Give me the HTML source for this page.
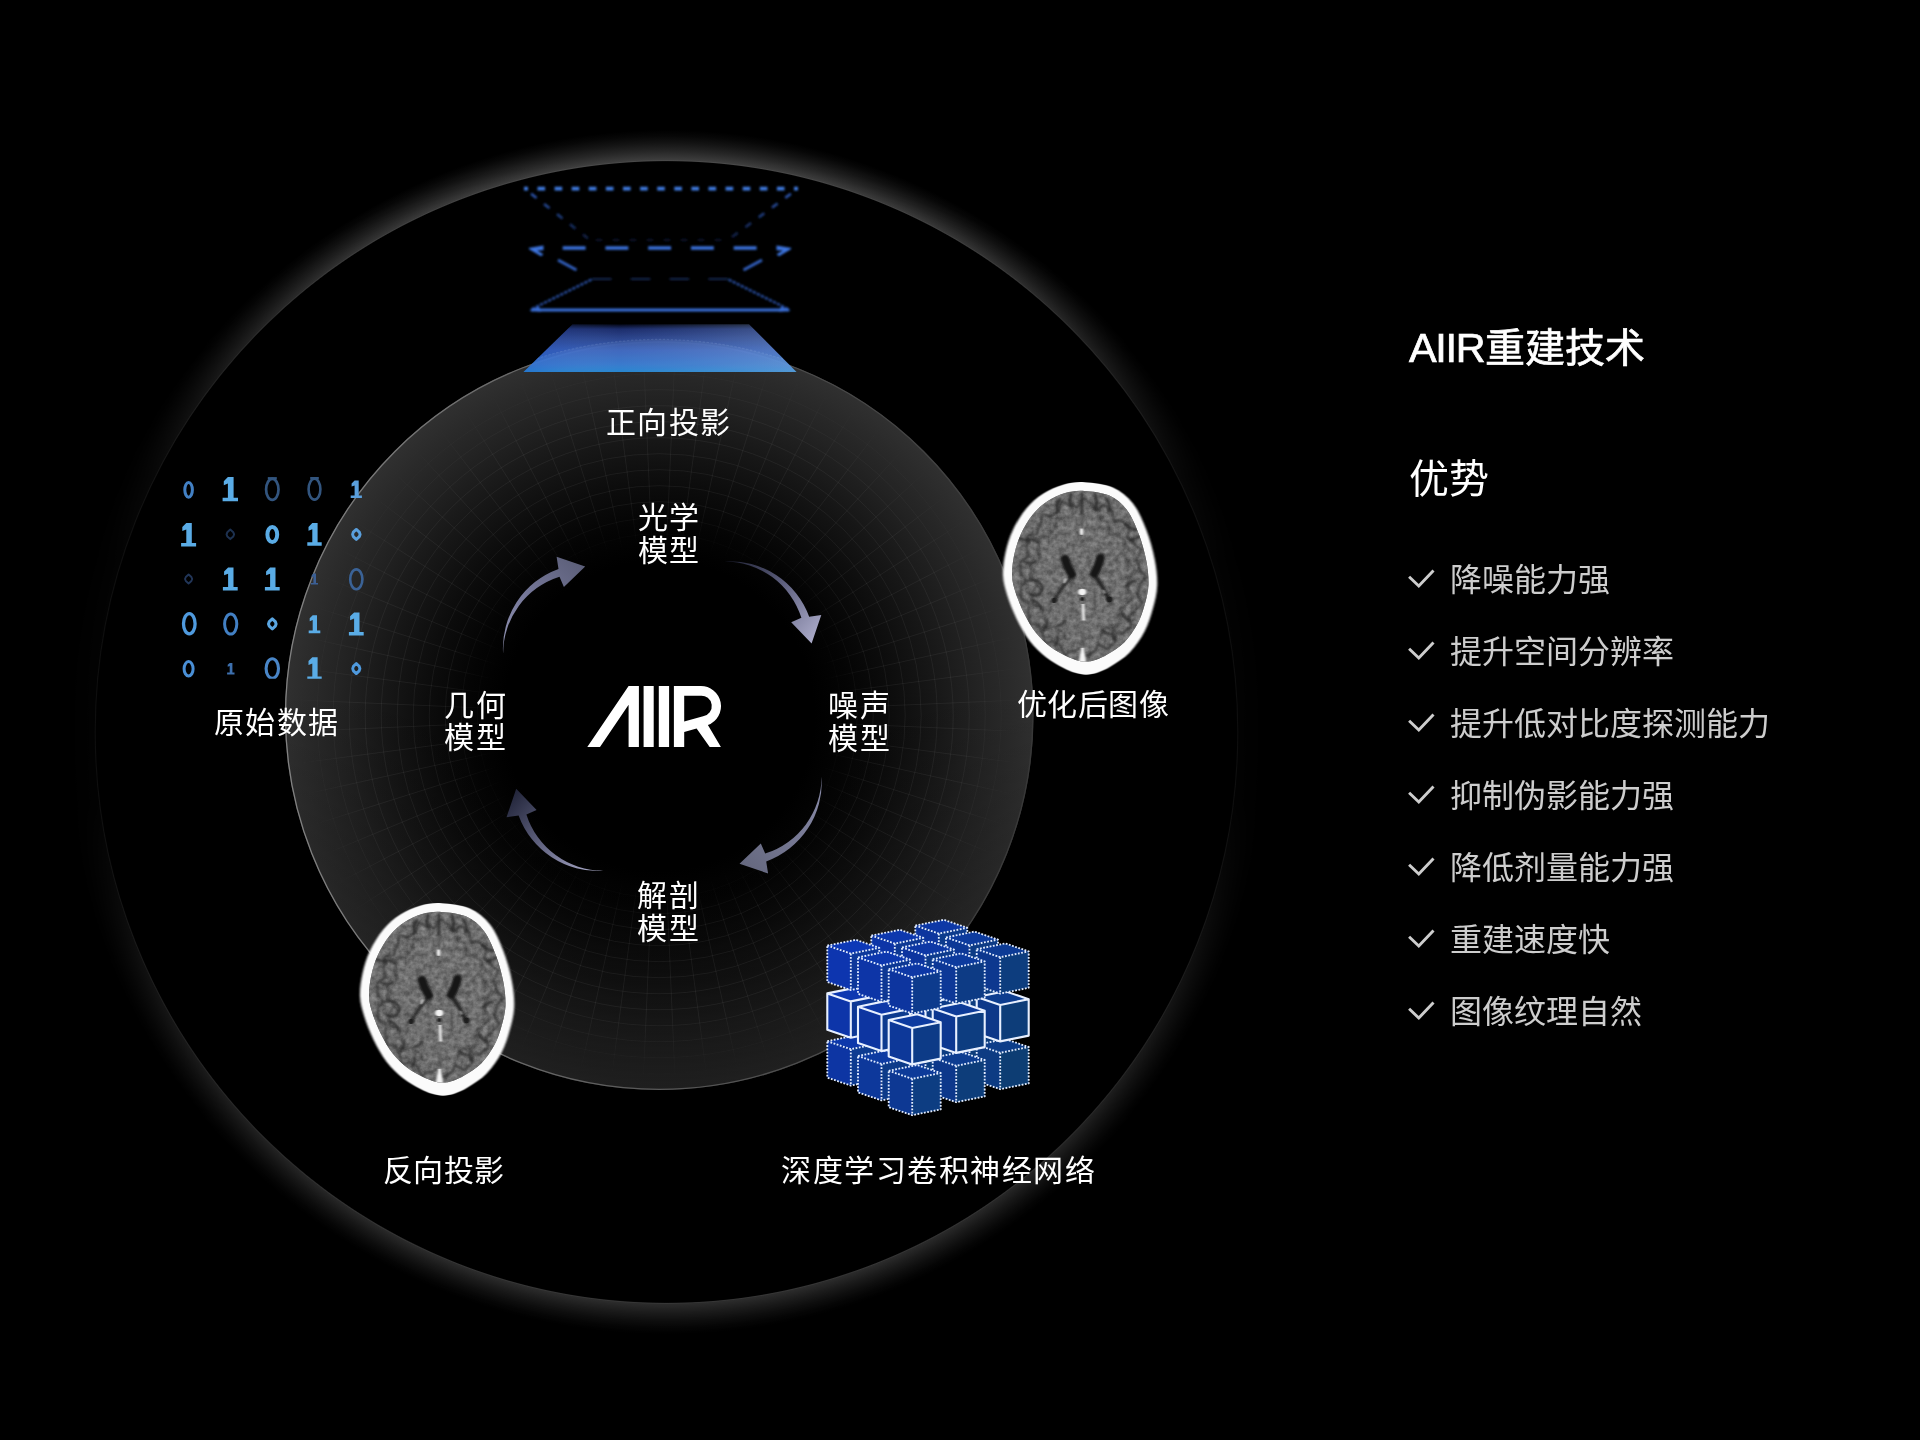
<!DOCTYPE html>
<html lang="zh-CN">
<head>
<meta charset="utf-8">
<title>AIIR重建技术</title>
<style>
html,body{margin:0;padding:0;background:#000;}
body{width:1920px;height:1440px;position:relative;overflow:hidden;color:#fff;font-family:"Liberation Sans",sans-serif;}
svg.dg{position:absolute;left:0;top:0;display:block;}
#txt{position:absolute;left:0;top:0;width:1920px;height:1440px;will-change:transform;}
.lb{position:absolute;white-space:nowrap;font-size:30px;line-height:32px;color:#fff;}
.ttl{position:absolute;left:1409px;white-space:nowrap;color:#fff;}
.li{position:absolute;left:1449.8px;font-size:32px;line-height:40px;color:#cdcdcd;white-space:nowrap;}
.ck{position:absolute;left:1407px;width:30px;height:24px;}

</style>
</head>
<body>
<svg class="dg" width="1400" height="1440" viewBox="0 0 1400 1440"><defs><radialGradient id="glow" gradientUnits="userSpaceOnUse" cx="666.5" cy="732" r="607"><stop offset="0.9397" stop-color="#000"/><stop offset="0.9414" stop-color="#404040"/><stop offset="0.9473" stop-color="#363636"/><stop offset="0.9572" stop-color="#262626"/><stop offset="0.9703" stop-color="#141414"/><stop offset="0.9819" stop-color="#070707"/><stop offset="0.9918" stop-color="#000"/></radialGradient><linearGradient id="gmg" gradientUnits="userSpaceOnUse" x1="0" y1="121" x2="0" y2="1343"><stop offset="0" stop-color="rgb(255,255,255)"/><stop offset="0.033" stop-color="rgb(255,255,255)"/><stop offset="0.079" stop-color="rgb(230,230,230)"/><stop offset="0.126" stop-color="rgb(189,189,189)"/><stop offset="0.17" stop-color="rgb(143,143,143)"/><stop offset="0.229" stop-color="rgb(76,76,76)"/><stop offset="0.29" stop-color="rgb(31,31,31)"/><stop offset="0.36" stop-color="rgb(13,13,13)"/><stop offset="0.5" stop-color="rgb(8,8,8)"/><stop offset="0.56" stop-color="rgb(10,10,10)"/><stop offset="0.626" stop-color="rgb(33,33,33)"/><stop offset="0.71" stop-color="rgb(76,76,76)"/><stop offset="0.771" stop-color="rgb(107,107,107)"/><stop offset="0.83" stop-color="rgb(135,135,135)"/><stop offset="0.874" stop-color="rgb(156,156,156)"/><stop offset="0.92" stop-color="rgb(171,171,171)"/><stop offset="0.967" stop-color="rgb(181,181,181)"/><stop offset="1" stop-color="rgb(181,181,181)"/></linearGradient><mask id="gm" maskUnits="userSpaceOnUse" x="0" y="0" width="1400" height="1440"><rect x="0" y="0" width="1400" height="1440" fill="url(#gmg)"/></mask><radialGradient id="ring" gradientUnits="userSpaceOnUse" cx="659.2" cy="715.7" r="374.3"><stop offset="0.0000" stop-color="rgb(0,0,0)"/><stop offset="0.4141" stop-color="rgb(0,0,0)"/><stop offset="0.5076" stop-color="rgb(4,4,4)"/><stop offset="0.6145" stop-color="rgb(12,12,12)"/><stop offset="0.7347" stop-color="rgb(23,23,23)"/><stop offset="0.8549" stop-color="rgb(35,35,35)"/><stop offset="0.9351" stop-color="rgb(42,42,42)"/><stop offset="0.9992" stop-color="rgb(48,48,48)"/></radialGradient><radialGradient id="gridfade" gradientUnits="userSpaceOnUse" cx="659.2" cy="715.7" r="374.3"><stop offset="0.0000" stop-color="rgb(0,0,0)"/><stop offset="0.4408" stop-color="rgb(0,0,0)"/><stop offset="0.5744" stop-color="rgb(255,255,255)"/><stop offset="0.8015" stop-color="rgb(255,255,255)"/><stop offset="0.8950" stop-color="rgb(114,114,114)"/><stop offset="0.9565" stop-color="rgb(30,30,30)"/><stop offset="0.9992" stop-color="rgb(0,0,0)"/></radialGradient><mask id="gridm" maskUnits="userSpaceOnUse" x="280" y="340" width="760" height="760"><circle cx="659.2" cy="715.7" r="374.3" fill="url(#gridfade)"/></mask><linearGradient id="rimg" gradientUnits="userSpaceOnUse" x1="285" y1="0" x2="1034" y2="0"><stop offset="0" stop-color="#828282"/><stop offset="0.45" stop-color="#5c5c5c"/><stop offset="1" stop-color="#383838"/></linearGradient><linearGradient id="ringshade" gradientUnits="userSpaceOnUse" x1="0" y1="690" x2="0" y2="1090"><stop offset="0" stop-color="#000" stop-opacity="0"/><stop offset="0.5" stop-color="#000" stop-opacity="0.2"/><stop offset="1" stop-color="#000" stop-opacity="0.36"/></linearGradient><linearGradient id="pfill" x1="0" y1="0" x2="0" y2="1"><stop offset="0" stop-color="#050818"/><stop offset="0.1" stop-color="#1f3174"/><stop offset="0.3" stop-color="#304b98"/><stop offset="0.55" stop-color="#3864c4"/><stop offset="0.85" stop-color="#2f79d6"/><stop offset="0.95" stop-color="#2283da"/><stop offset="1" stop-color="#1a86d6"/></linearGradient><linearGradient id="pfillh" x1="0" y1="0" x2="1" y2="0"><stop offset="0" stop-color="#0a3fd0" stop-opacity="0.25"/><stop offset="0.35" stop-color="#7aa0e0" stop-opacity="0"/><stop offset="1" stop-color="#a8c6ee" stop-opacity="0.34"/></linearGradient><linearGradient id="pside1" gradientUnits="userSpaceOnUse" x1="0" y1="190" x2="0" y2="240"><stop offset="0" stop-color="#2f5ab8"/><stop offset="1" stop-color="#111d40"/></linearGradient><filter id="b06" x="-5%" y="-50%" width="110%" height="200%"><feGaussianBlur stdDeviation="0.6"/></filter><filter id="b05" filterUnits="userSpaceOnUse" x="500" y="170" width="320" height="160"><feGaussianBlur stdDeviation="1.05"/></filter><clipPath id="pclip"><path d="M572.5 324.3H749L796.5 372H523.5Z"/></clipPath><linearGradient id="ag0" gradientUnits="userSpaceOnUse" x1="724" y1="561" x2="814" y2="640"><stop offset="0" stop-color="#1c1e30"/><stop offset="0.5" stop-color="#5f6180"/><stop offset="1" stop-color="#aaaac8"/></linearGradient><linearGradient id="ag1" gradientUnits="userSpaceOnUse" x1="724" y1="561" x2="814" y2="640"><stop offset="0" stop-color="#8c8eac"/><stop offset="0.5" stop-color="#787a95"/><stop offset="1" stop-color="#65687f"/></linearGradient><linearGradient id="ag2" gradientUnits="userSpaceOnUse" x1="724" y1="561" x2="814" y2="640"><stop offset="0" stop-color="#b0b0ce"/><stop offset="0.5" stop-color="#686a88"/><stop offset="1" stop-color="#22253a"/></linearGradient><linearGradient id="ag3" gradientUnits="userSpaceOnUse" x1="724" y1="561" x2="814" y2="640"><stop offset="0" stop-color="#9294b2"/><stop offset="0.5" stop-color="#76789a"/><stop offset="1" stop-color="#5c5f79"/></linearGradient><filter id="bitb" x="-2%" y="-2%" width="104%" height="104%"><feGaussianBlur stdDeviation="0.75"/></filter><clipPath id="bitclip"><rect x="170" y="476.9" width="210" height="201.8"/></clipPath><filter id="b04" x="-5%" y="-5%" width="110%" height="110%"><feGaussianBlur stdDeviation="0.45"/></filter><filter id="bnoise" x="0" y="0" width="100%" height="100%" color-interpolation-filters="sRGB"><feTurbulence type="fractalNoise" baseFrequency="0.18" numOctaves="3" seed="11" result="n"/><feColorMatrix in="n" type="matrix" values="0.32 0 0 0 0.275  0.32 0 0 0 0.275  0.32 0 0 0 0.275  0 0 0 0 1" result="g"/><feGaussianBlur in="g" stdDeviation="0.7" result="gb"/><feComposite in="gb" in2="SourceGraphic" operator="in"/></filter><filter id="bb1" filterUnits="userSpaceOnUse" x="-10" y="-10" width="180" height="220"><feGaussianBlur stdDeviation="1.1"/></filter><filter id="bb2" filterUnits="userSpaceOnUse" x="-10" y="-10" width="180" height="220"><feGaussianBlur stdDeviation="0.8"/></filter><clipPath id="bclip"><path d="M81.3 8.5C88.7 8.9 99.3 10 106.4 13.3C113.5 16.6 119.2 21.6 124.1 28.1C129 34.6 132.6 43.8 135.8 52.4C139 61 141.7 71.2 143.3 79.7C144.9 88.3 145.7 96.3 145.5 103.7C145.2 111 143.6 117.1 141.8 123.8C139.9 130.5 137.9 137.5 134.4 144C131 150.5 126.1 157.6 121.2 162.7C116.2 167.9 109.3 171.9 104.6 174.8C99.9 177.8 96.7 179.1 93.1 180.3C89.5 181.5 86.1 182.2 82.7 182.2C79.4 182.2 76.2 181.6 72.7 180.6C69.3 179.5 66.4 178.3 62.1 176.1C57.9 173.8 52.3 171 47.3 167.1C42.4 163.2 37.1 158.4 32.7 152.6C28.2 146.9 24.1 139.2 20.8 132.5C17.5 125.7 14.7 118.6 12.7 112.3C10.8 106.1 9.3 101.4 9 94.9C8.8 88.5 9.8 80.7 11.2 73.6C12.7 66.5 14.8 59.2 17.9 52.4C20.9 45.6 25.2 38.2 29.6 32.7C34.1 27.1 39 22.7 44.4 19C49.8 15.4 56 12.5 62.1 10.7C68.3 9 74 8 81.3 8.5Z"/></clipPath><symbol id="brain" viewBox="-4 -4 162 204" preserveAspectRatio="none" overflow="visible"><path d="M81.7 -0.3C90 0.2 102 1.4 110 5C118 8.6 124.5 14.1 130 21.3C135.6 28.5 139.7 38.5 143.3 48C146.9 57.5 149.9 68.5 151.7 78C153.5 87.5 154.5 96.4 154.2 104.7C153.9 113 152.1 120.2 150 128C147.9 135.8 145.6 143.8 141.7 151.3C137.8 158.8 132.3 167.1 126.7 173C121.1 178.9 113.3 183.6 108 187C102.7 190.4 99.1 191.9 95 193.3C90.9 194.7 87.1 195.4 83.3 195.5C79.5 195.6 75.9 194.8 72 193.6C68.1 192.4 64.8 191 60 188.4C55.2 185.8 48.8 182.5 43.3 178C37.8 173.5 31.7 168 26.7 161.3C21.7 154.6 17.1 145.8 13.3 138C9.6 130.2 6.4 121.9 4.2 114.7C2 107.5 0.3 101.9 0 94.7C-0.3 87.5 0.8 79.1 2.5 71.3C4.2 63.5 6.5 55.5 10 48C13.5 40.5 18.3 32.4 23.3 26.3C28.3 20.2 33.9 15.3 40 11.3C46.1 7.3 53 4.1 60 2.2C67 0.3 73.4 -0.8 81.7 -0.3Z" fill="#fbfbfb" filter="url(#bb2)"/><path d="M81.3 8.5C88.7 8.9 99.3 10 106.4 13.3C113.5 16.6 119.2 21.6 124.1 28.1C129 34.6 132.6 43.8 135.8 52.4C139 61 141.7 71.2 143.3 79.7C144.9 88.3 145.7 96.3 145.5 103.7C145.2 111 143.6 117.1 141.8 123.8C139.9 130.5 137.9 137.5 134.4 144C131 150.5 126.1 157.6 121.2 162.7C116.2 167.9 109.3 171.9 104.6 174.8C99.9 177.8 96.7 179.1 93.1 180.3C89.5 181.5 86.1 182.2 82.7 182.2C79.4 182.2 76.2 181.6 72.7 180.6C69.3 179.5 66.4 178.3 62.1 176.1C57.9 173.8 52.3 171 47.3 167.1C42.4 163.2 37.1 158.4 32.7 152.6C28.2 146.9 24.1 139.2 20.8 132.5C17.5 125.7 14.7 118.6 12.7 112.3C10.8 106.1 9.3 101.4 9 94.9C8.8 88.5 9.8 80.7 11.2 73.6C12.7 66.5 14.8 59.2 17.9 52.4C20.9 45.6 25.2 38.2 29.6 32.7C34.1 27.1 39 22.7 44.4 19C49.8 15.4 56 12.5 62.1 10.7C68.3 9 74 8 81.3 8.5Z" fill="#6d6d6d"/><path d="M81.3 8.5C88.7 8.9 99.3 10 106.4 13.3C113.5 16.6 119.2 21.6 124.1 28.1C129 34.6 132.6 43.8 135.8 52.4C139 61 141.7 71.2 143.3 79.7C144.9 88.3 145.7 96.3 145.5 103.7C145.2 111 143.6 117.1 141.8 123.8C139.9 130.5 137.9 137.5 134.4 144C131 150.5 126.1 157.6 121.2 162.7C116.2 167.9 109.3 171.9 104.6 174.8C99.9 177.8 96.7 179.1 93.1 180.3C89.5 181.5 86.1 182.2 82.7 182.2C79.4 182.2 76.2 181.6 72.7 180.6C69.3 179.5 66.4 178.3 62.1 176.1C57.9 173.8 52.3 171 47.3 167.1C42.4 163.2 37.1 158.4 32.7 152.6C28.2 146.9 24.1 139.2 20.8 132.5C17.5 125.7 14.7 118.6 12.7 112.3C10.8 106.1 9.3 101.4 9 94.9C8.8 88.5 9.8 80.7 11.2 73.6C12.7 66.5 14.8 59.2 17.9 52.4C20.9 45.6 25.2 38.2 29.6 32.7C34.1 27.1 39 22.7 44.4 19C49.8 15.4 56 12.5 62.1 10.7C68.3 9 74 8 81.3 8.5Z" fill="#fff" filter="url(#bnoise)" opacity="0.95"/><g clip-path="url(#bclip)"><g fill="none" stroke="#2a2a2a" stroke-linecap="round" stroke-linejoin="round" filter="url(#bb1)"><path d="M78.5 17.7L81.8 16.2L84.9 19.8L88 20.7L90.7 23.6L92.9 28.6L96.5 26.5L100.8 22.7L103.7 24.9L106.4 27.1L109.3 28.9L109.9 35.5L111.1 39.9L115.8 38.4L119.5 39.1L121.7 42.1L125.3 43.5L126.3 48L124.2 55L126.1 58L130 59.5L131.7 63L134.9 65.5L138.3 68.3L135.8 73.9L133.3 79L135.3 82.4L136.1 86.2L137.1 90L141.5 93.7L142.1 98L137.7 101.9L136.3 105.6L136.1 109.4L134.1 112.8L136 117.3L139.3 122.8L136.7 126L132.9 128.4L131.5 131.9L128.1 133.9L125.6 136.4L127.7 142.8L127.7 148L124.1 149.5L121.6 152.1L118.5 153.7L113.7 152.5L112 155.8L112 162.6L109.4 165.2L106.4 166.8L103.9 169.5L99.6 166.9L95.6 164.2L93.6 168.6L91.1 172.5L88 173.2L85.1 176.5L81.8 176.4L78.5 170.3L75.5 168.6L72.3 171.5L69.2 171.3L65.8 172.7L61.9 175.7L59.5 171.5L57.9 165.2L55 164.3L52.1 163L49.5 161L44.7 163.3L40.8 163.1L40.5 156.9L39.4 152.5L37.1 150L36.4 145.6L33.2 144L27.4 144.6L25.7 141L26.4 135.8L25 132.2L25.6 127.6L26.5 123L22 121L17.7 118.4L18.2 114.1L17.9 110L18.1 106L22 101.7L22.4 98L18.2 93.9L17.2 89.7L17.8 85.6L17 81.1L20.4 77.9L25.4 75.7L24.9 71.4L23.6 66.4L24.9 62.7L24.4 57.6L25.3 53.3L30.9 53.2L34.7 52.1L35.1 47.5L37 44.3L38.4 40.4L38.3 33.9L41.6 32.3L46.8 34.8L49.6 33.2L52.1 31L55.2 30.3L56.7 24.5L58.6 19L62.6 21.2L66.2 23.4L69.3 22.7L72.6 24.9L75.5 24.3L78.5 17.7" stroke-width="2" opacity="0.8"/><path d="M61.3 157.4L60.2 152L58 150.6L55.4 150.2L53.7 147.8L51.6 146.2L47.4 148L43.1 149L41.8 145.7L42.3 140.4L41.5 137L39.8 134.6L39.8 130.7L40 127L36.8 125.8L31.7 125.4L29.3 122.9L30 118.9L30.1 115.4L29.2 112.3L30.6 108.6L33.8 104.9L33.9 101.9L30.1 99.1L27.2 95.7L27.6 92.2L28 88.8L27.1 85.1L28.4 81.9L33.1 80.1L36.6 78.3L36 74.7L34.6 70.3L35.4 67.1L36.3 63.9L35.7 59.2L36.1 55.2L40.1 54.9L44.9 56.1L47.2 54.5L48 51L49.9 49L52.1 47.3L52.7 42.4L53.3 36.6L56 35.5L59.9 38.5" stroke-width="1.8" opacity="0.6"/><path d="M96.3 34.8L98.8 36.3L100.8 38.9L103.5 39.7L105.6 42L105.7 47.8L105.8 52.8L108.6 53.2L112.7 52.2L115.3 53.6L117 56.3L120 57.6L122.7 59.4L122 64.2L119.4 69.9L119.5 73.3L122.4 75.1L124.2 77.7L124.8 80.8L127.4 83.4L131.3 86L131.5 89.6L127.9 93.5L125.3 96.9L125.7 100.1L125.7 103.2L124.2 106.1L124.9 109.3L128.4 113.6L130.1 117.8L127.4 120.3L123.8 122.1L122.4 124.9L120.9 127.5L117.5 128.5L115.2 130.3L116.4 135.1L117.9 140.9L116.3 143.8L113.2 144.7L111.1 146.8L109.1 148.9L105.3 147.8L101.4 145.9L99.8 148.2L99.3 153.9L97.6 157.4" stroke-width="1.8" opacity="0.55"/></g><g fill="none" stroke="#2c2c2c" stroke-linecap="round" filter="url(#bb1)" opacity="0.85"><path d="M17 57l9 3M136.5 55l-9 4M54 19v9M94 19v9M57 17q-4 6-2 12M68 12q-3 8 1 14M92 12q3 8-1 15M103 16q5 6 3 13M22 58q8 -2 13 3M20 80q7 3 12 1M122 42q4 5 11 6M40 150q5 -4 4 -10M52 166q4 -5 2 -10M112 160q-4 -5 -1 -10M126 140q-5 -2 -7 -7M30 120q6 2 8 8M132 100q-6 1 -9 6M24 100q7 -3 13 2q5 5 0 11q-6 4 -11 0M100 150q3 4 8 4M62 140q-2 5 -7 6" stroke-width="2.6"/></g><path d="M79 11L78.8 33" stroke="#2c2c2c" stroke-width="2.6" fill="none" filter="url(#bb1)" opacity="0.85"/><path d="M78.8 33L78.6 64" stroke="#3a3a3a" stroke-width="1.8" fill="none" filter="url(#bb1)" opacity="0.4"/><path d="M79.5 142L80.5 170" stroke="#484848" stroke-width="1.6" fill="none" filter="url(#bb1)" opacity="0.6"/><g fill="none" stroke="#181818" stroke-linecap="round" stroke-linejoin="round" filter="url(#bb1)"><path d="M62 77.5Q64 86 69 93.5" stroke-width="8.6"/><path d="M97.5 76.5Q95.5 86 91 93" stroke-width="8.6"/><path d="M68 96Q60 105 51.5 119" stroke-width="3.4" opacity="0.8"/><path d="M92 95Q100 106 106 119" stroke-width="4.2" opacity="0.85"/></g><g fill="#1a1a1a" filter="url(#bb2)"><circle cx="51" cy="120" r="2.6"/><circle cx="106.5" cy="119" r="3"/><circle cx="79.3" cy="118.5" r="2"/></g><g fill="#f4f4f4" filter="url(#bb2)"><ellipse cx="78.6" cy="50" rx="1.8" ry="3.4"/><ellipse cx="79.2" cy="111.3" rx="4" ry="3.2"/><path d="M78.6 123.5h2.6l0.8 17h-2.6z"/><path d="M78 168l3 0l2.6 18h-8z"/><ellipse cx="62" cy="100" rx="1.3" ry="3" transform="rotate(28 62 100)" opacity="0.7"/><ellipse cx="101" cy="111" rx="1.1" ry="2.4" transform="rotate(-28 101 111)" opacity="0.55"/></g></g></symbol></defs>
<g mask="url(#gm)"><circle cx="666.5" cy="732" r="607" fill="url(#glow)"/></g>
<circle cx="666.5" cy="732" r="571.3" fill="none" stroke="#fff" stroke-opacity="0.05" stroke-width="1.2"/>
<circle cx="659.2" cy="715.7" r="374.3" fill="url(#ring)"/>
<circle cx="659.2" cy="715.7" r="374.3" fill="url(#ringshade)"/>
<g mask="url(#gridm)" fill="none" stroke="#fff" stroke-opacity="0.055" stroke-width="1"><circle cx="659.2" cy="715.7" r="150"/><circle cx="659.2" cy="715.7" r="166"/><circle cx="659.2" cy="715.7" r="182"/><circle cx="659.2" cy="715.7" r="198"/><circle cx="659.2" cy="715.7" r="214"/><circle cx="659.2" cy="715.7" r="230"/><circle cx="659.2" cy="715.7" r="246"/><circle cx="659.2" cy="715.7" r="262"/><circle cx="659.2" cy="715.7" r="278"/><circle cx="659.2" cy="715.7" r="294"/><circle cx="659.2" cy="715.7" r="310"/><circle cx="659.2" cy="715.7" r="326"/><circle cx="659.2" cy="715.7" r="342"/><circle cx="659.2" cy="715.7" r="358"/><path d="M809.1 722.2L1030.8 731.9M807.9 735.3L1028 764.3M805.6 748.2L1022.4 796.2M802.3 760.8L1014 827.6M797.8 773.1L1002.9 858.1M792.3 785L989.2 887.5M785.7 796.3L972.9 915.6M778.2 807L954.3 942.2M769.8 817L933.5 967M760.5 826.3L910.5 990M750.5 834.7L885.7 1010.8M739.8 842.2L859.1 1029.4M728.5 848.8L831 1045.7M716.6 854.3L801.6 1059.4M704.3 858.8L771.1 1070.5M691.7 862.1L739.7 1078.9M678.8 864.4L707.8 1084.5M665.7 865.6L675.4 1087.3M652.7 865.6L643 1087.3M639.6 864.4L610.6 1084.5M626.7 862.1L578.7 1078.9M614.1 858.8L547.3 1070.5M601.8 854.3L516.8 1059.4M589.9 848.8L487.4 1045.7M578.6 842.2L459.3 1029.4M567.9 834.7L432.7 1010.8M557.9 826.3L407.9 990M548.6 817L384.9 967M540.2 807L364.1 942.2M532.7 796.3L345.5 915.6M526.1 785L329.2 887.5M520.6 773.1L315.5 858.1M516.1 760.8L304.4 827.6M512.8 748.2L296 796.2M510.5 735.3L290.4 764.3M509.3 722.2L287.6 731.9M509.3 709.2L287.6 699.5M510.5 696.1L290.4 667.1M512.8 683.2L296 635.2M516.1 670.6L304.4 603.8M520.6 658.3L315.5 573.3M526.1 646.4L329.2 543.9M532.7 635.1L345.5 515.8M540.2 624.4L364.1 489.2M548.6 614.4L384.9 464.4M557.9 605.1L407.9 441.4M567.9 596.7L432.7 420.6M578.6 589.2L459.3 402M589.9 582.6L487.4 385.7M601.8 577.1L516.8 372M614.1 572.6L547.3 360.9M626.7 569.3L578.7 352.5M639.6 567L610.6 346.9M652.7 565.8L643 344.1M665.7 565.8L675.4 344.1M678.8 567L707.8 346.9M691.7 569.3L739.7 352.5M704.3 572.6L771.1 360.9M716.6 577.1L801.6 372M728.5 582.6L831 385.7M739.8 589.2L859.1 402M750.5 596.7L885.7 420.6M760.5 605.1L910.5 441.4M769.8 614.4L933.5 464.4M778.2 624.4L954.3 489.2M785.7 635.1L972.9 515.8M792.3 646.4L989.2 543.9M797.8 658.3L1002.9 573.3M802.3 670.6L1014 603.8M805.6 683.2L1022.4 635.2M807.9 696.1L1028 667.1M809.1 709.2L1030.8 699.5"/></g>
<circle cx="659.2" cy="715.7" r="373.7" fill="none" stroke="url(#rimg)" stroke-width="1.3"/>
<g fill="none" stroke-linecap="butt" filter="url(#b05)">
<path d="M524 188.7H798" stroke="#3f7ae0" stroke-width="3.8" stroke-dasharray="7.6 9.5" stroke-dashoffset="3.6" stroke-linecap="butt"/>
<path d="M529.5 192.5L588 238.5M792.5 192.5L730 238.5" stroke="url(#pside1)" stroke-width="2.6" stroke-dasharray="7 9.5" stroke-dashoffset="-2"/>
<path d="M596 240H724" stroke="#101c3e" stroke-width="1.6" stroke-dasharray="6 11"/>
<path d="M562.7 248H757" stroke="#3a70d8" stroke-width="3.5" stroke-dasharray="22.9 19.85"/>
<path d="M528.5 248L543.5 245.4V250.2L537 250.4L543.5 254.2L541 256.3L529.5 249.6Z" fill="#3c74de" stroke="none"/>
<path d="M791.5 248L776.5 245.4V250.2L783 250.4L776.5 254.2L779 256.3L790.5 249.6Z" fill="#3c74de" stroke="none"/>
<path d="M558 260L576.5 270M762 260L743.5 270" stroke="#3260c0" stroke-width="2.8"/>
<path d="M592 279H728" stroke="#17284f" stroke-width="2" stroke-dasharray="19.5 19.3"/>
<path d="M531 310H789" stroke="#3a6fd8" stroke-width="3.2"/>
<path d="M532 309L592 279.3M788 309L728 279.3" stroke="#2b52aa" stroke-width="2.3" stroke-dasharray="3.2 1.3"/>
<path d="M529 310.3L539 306.8L541 311.7ZM791 310.3L781 306.8L779 311.7Z" fill="#3a6fd8" stroke="none"/>
</g>
<g opacity="0.93"><path d="M572.5 324.3H749L796.5 372H523.5Z" fill="url(#pfill)"/><path d="M572.5 324.3H749L796.5 372H523.5Z" fill="url(#pfillh)"/></g>
<g clip-path="url(#pclip)"><circle cx="659" cy="739.4" r="400" fill="#cfe0ff" fill-opacity="0.075" stroke="#b9d2f6" stroke-opacity="0.13" stroke-width="1.2" stroke-dasharray="2.5 1.5"/></g>
<path d="M724.6 561.4A84.3 84.3 0 0 1 809.2 616.8L821.3 614.9L811.6 643.5L791.2 622.2L801.4 617.8A80.9 80.9 0 0 0 724.6 561.4Z" fill="url(#ag0)" transform="rotate(0 663.5 715.5)"/>
<path d="M724.6 561.4A84.3 84.3 0 0 1 809.2 616.8L821.3 614.9L811.6 643.5L791.2 622.2L801.4 617.8A80.9 80.9 0 0 0 724.6 561.4Z" fill="url(#ag1)" transform="rotate(90 665.4 717.6)"/>
<path d="M724.6 561.4A84.3 84.3 0 0 1 809.2 616.8L821.3 614.9L811.6 643.5L791.2 622.2L801.4 617.8A80.9 80.9 0 0 0 724.6 561.4Z" fill="url(#ag2)" transform="rotate(180 663.9 716.1)"/>
<path d="M724.6 561.4A84.3 84.3 0 0 1 809.2 616.8L821.3 614.9L811.6 643.5L791.2 622.2L801.4 617.8A80.9 80.9 0 0 0 724.6 561.4Z" fill="url(#ag3)" transform="rotate(270 659.9 718.2)"/>
<path d="M587.3 747L628.6 686H638.9V747H628.6V704.7L600 747ZM643.6 686H653.7V747H643.6ZM658.8 686H669.1V747H658.8ZM673.9 686H700.3A20.2 20.2 0 0 1 707.9 725.1L720.9 747H709.7L696.6 728.6L684.2 731.9V747H673.9ZM684.2 695.7V721.4L703.1 716.3A10.4 10.4 0 0 0 700.3 695.7Z" fill="#fff" fill-rule="evenodd"/>
<g clip-path="url(#bitclip)"><g filter="url(#bitb)"><ellipse cx="188.6" cy="489.8" rx="3.8" ry="7.4" fill="none" stroke="#4380c4" stroke-width="3"/><path d="M227.9 477.1H233.6V497.7H238V501.3H222.6V497.7H227.9V483.6L223.8 485.3V481.2Z" fill="#5aace6"/><ellipse cx="272.3" cy="489.4" rx="6.2" ry="10.5" fill="none" stroke="#33557f" stroke-width="2.7"/><path d="M267.8 478.2H276.8" stroke="#33557f" stroke-width="2.2" fill="none"/><ellipse cx="314.5" cy="489.2" rx="5.9" ry="10.4" fill="none" stroke="#33557f" stroke-width="2.6"/><path d="M310.2 478.1H318.8" stroke="#33557f" stroke-width="2.2" fill="none"/><path d="M354.6 480.6H358.7V495.5H361.9V498.1H350.7V495.5H354.6V485.4L351.6 486.6V483.6Z" fill="#5a9fdc"/><path d="M186.3 523.1H191.8V543H196.1V546.5H181.1V543H186.3V529.4L182.3 531.1V527.1Z" fill="#5aace6"/><path d="M230.3 529.6L233.3 532.3L234.1 534.4L233.3 536.5L230.3 539.1L227.3 536.5L226.6 534.4L227.3 532.3Z" fill="none" stroke="#1e3050" stroke-width="2" stroke-linejoin="round"/><ellipse cx="272.3" cy="534.5" rx="4.9" ry="7.5" fill="none" stroke="#5aace6" stroke-width="4"/><path d="M312.3 523.1H317.6V542.3H321.7V545.7H307.3V542.3H312.3V529.2L308.5 530.8V526.9Z" fill="#5aace6"/><path d="M356.3 529.4L359.3 532.1L360.1 534.4L359.3 536.7L356.3 539.4L353.3 536.7L352.6 534.4L353.3 532.1Z" fill="none" stroke="#5a9fdc" stroke-width="2.9" stroke-linejoin="round"/><path d="M188.6 574.5L191.4 577L192.2 579L191.4 581L188.6 583.5L185.8 581L185 579L185.8 577Z" fill="none" stroke="#213658" stroke-width="1.9" stroke-linejoin="round"/><path d="M228.1 567.5H233.5V587H237.7V590.5H222.9V587H228.1V573.7L224.1 575.3V571.4Z" fill="#5aace6"/><path d="M270.1 567.5H275.5V587H279.7V590.5H264.9V587H270.1V573.7L266.1 575.3V571.4Z" fill="#5aace6"/><path d="M313.4 573.5H316V582.9H318V584.5H311V582.9H313.4V576.5L311.6 577.2V575.4Z" fill="#3a5f95"/><ellipse cx="356.3" cy="579.3" rx="6.1" ry="9.9" fill="none" stroke="#3a6296" stroke-width="2.6"/><ellipse cx="189.3" cy="623.7" rx="5.8" ry="10.1" fill="none" stroke="#4f9ade" stroke-width="3.3"/><ellipse cx="230.7" cy="624.1" rx="6.1" ry="10" fill="none" stroke="#4380c4" stroke-width="3"/><path d="M272.3 618.8L275.3 621.6L276.1 623.9L275.3 626.2L272.3 629L269.3 626.2L268.5 623.9L269.3 621.6Z" fill="none" stroke="#5aa6e2" stroke-width="3" stroke-linejoin="round"/><path d="M312.7 615.2H317V630.5H320.3V633.2H308.7V630.5H312.7V620.1L309.7 621.3V618.3Z" fill="#5aace6"/><path d="M354.1 612.4H359.5V631.9H363.7V635.4H348.9V631.9H354.1V618.6L350.1 620.2V616.3Z" fill="#5aace6"/><ellipse cx="188.6" cy="668.8" rx="4.5" ry="7.2" fill="none" stroke="#4a8fd6" stroke-width="3"/><path d="M229.7 662.9H232.4V672.6H234.5V674.4H227.1V672.6H229.7V666L227.7 666.8V664.8Z" fill="#3d6fae"/><ellipse cx="272.3" cy="668.6" rx="6.2" ry="9.8" fill="none" stroke="#4a86c8" stroke-width="3.1"/><path d="M312.3 657.3H317.6V676.5H321.7V679.9H307.3V676.5H312.3V663.4L308.5 665V661.1Z" fill="#5aace6"/><path d="M356.3 663.6L359.2 666.3L359.9 668.6L359.2 670.9L356.3 673.6L353.4 670.9L352.7 668.6L353.4 666.3Z" fill="none" stroke="#4f9ade" stroke-width="2.9" stroke-linejoin="round"/></g></g>
<g filter="url(#b04)"><g fill="none" stroke="#e2ecff" stroke-width="1.85" stroke-dasharray="1.8 1.5" stroke-linejoin="round"><polygon points="915.3,1015.2 938.8,1023.2 967.3,1017.4 943.8,1009.4" fill="#0b3a9b" stroke="none"/><polygon points="915.3,1015.2 938.8,1023.2 938.8,1059.6 915.3,1051.6" fill="#0b3894" stroke="none"/><polygon points="938.8,1023.2 967.3,1017.4 967.3,1053.8 938.8,1059.6" fill="#0b3c83" stroke="none"/><path d="M915.3 1015.2L943.8 1009.4L967.3 1017.4L967.3 1053.8L938.8 1059.6L915.3 1051.6ZM915.3 1015.2L938.8 1023.2L967.3 1017.4M938.8 1023.2L938.8 1059.6"/><polygon points="946,1030 969.5,1038 998,1032.2 974.5,1024.2" fill="#0b3c92" stroke="none"/><polygon points="946,1030 969.5,1038 969.5,1074.4 946,1066.4" fill="#0b398b" stroke="none"/><polygon points="969.5,1038 998,1032.2 998,1068.6 969.5,1074.4" fill="#0b3d7b" stroke="none"/><path d="M946 1030L974.5 1024.2L998 1032.2L998 1068.6L969.5 1074.4L946 1066.4ZM946 1030L969.5 1038L998 1032.2M969.5 1038L969.5 1074.4"/><polygon points="976.7,1044.8 1000.2,1052.8 1028.7,1047 1005.2,1039" fill="#0c3d89" stroke="none"/><polygon points="976.7,1044.8 1000.2,1052.8 1000.2,1089.2 976.7,1081.2" fill="#0b3a83" stroke="none"/><polygon points="1000.2,1052.8 1028.7,1047 1028.7,1083.4 1000.2,1089.2" fill="#0b3e73" stroke="none"/><path d="M976.7 1044.8L1005.2 1039L1028.7 1047L1028.7 1083.4L1000.2 1089.2L976.7 1081.2ZM976.7 1044.8L1000.2 1052.8L1028.7 1047M1000.2 1052.8L1000.2 1089.2"/><polygon points="871.3,1028.2 894.8,1036.2 923.3,1030.4 899.8,1022.4" fill="#0b39a3" stroke="none"/><polygon points="871.3,1028.2 894.8,1036.2 894.8,1072.6 871.3,1064.6" fill="#0a379b" stroke="none"/><polygon points="894.8,1036.2 923.3,1030.4 923.3,1066.8 894.8,1072.6" fill="#0a3b8a" stroke="none"/><path d="M871.3 1028.2L899.8 1022.4L923.3 1030.4L923.3 1066.8L894.8 1072.6L871.3 1064.6ZM871.3 1028.2L894.8 1036.2L923.3 1030.4M894.8 1036.2L894.8 1072.6"/><polygon points="902,1043 925.5,1051 954,1045.2 930.5,1037.2" fill="#0b3b9a" stroke="none"/><polygon points="902,1043 925.5,1051 925.5,1087.4 902,1079.4" fill="#0b3893" stroke="none"/><polygon points="925.5,1051 954,1045.2 954,1081.6 925.5,1087.4" fill="#0b3c82" stroke="none"/><path d="M902 1043L930.5 1037.2L954 1045.2L954 1081.6L925.5 1087.4L902 1079.4ZM902 1043L925.5 1051L954 1045.2M925.5 1051L925.5 1087.4"/><polygon points="932.7,1057.8 956.2,1065.8 984.7,1060 961.2,1052" fill="#0b3c91" stroke="none"/><polygon points="932.7,1057.8 956.2,1065.8 956.2,1102.2 932.7,1094.2" fill="#0b398b" stroke="none"/><polygon points="956.2,1065.8 984.7,1060 984.7,1096.4 956.2,1102.2" fill="#0b3d7a" stroke="none"/><path d="M932.7 1057.8L961.2 1052L984.7 1060L984.7 1096.4L956.2 1102.2L932.7 1094.2ZM932.7 1057.8L956.2 1065.8L984.7 1060M956.2 1065.8L956.2 1102.2"/><polygon points="827.3,1041.2 850.8,1049.2 879.3,1043.4 855.8,1035.4" fill="#0b38ab" stroke="none"/><polygon points="827.3,1041.2 850.8,1049.2 850.8,1085.6 827.3,1077.6" fill="#0a36a3" stroke="none"/><polygon points="850.8,1049.2 879.3,1043.4 879.3,1079.8 850.8,1085.6" fill="#0a3a91" stroke="none"/><path d="M827.3 1041.2L855.8 1035.4L879.3 1043.4L879.3 1079.8L850.8 1085.6L827.3 1077.6ZM827.3 1041.2L850.8 1049.2L879.3 1043.4M850.8 1049.2L850.8 1085.6"/><polygon points="858,1056 881.5,1064 910,1058.2 886.5,1050.2" fill="#0b3aa2" stroke="none"/><polygon points="858,1056 881.5,1064 881.5,1100.4 858,1092.4" fill="#0a379b" stroke="none"/><polygon points="881.5,1064 910,1058.2 910,1094.6 881.5,1100.4" fill="#0a3b89" stroke="none"/><path d="M858 1056L886.5 1050.2L910 1058.2L910 1094.6L881.5 1100.4L858 1092.4ZM858 1056L881.5 1064L910 1058.2M881.5 1064L881.5 1100.4"/><polygon points="888.7,1070.8 912.2,1078.8 940.7,1073 917.2,1065" fill="#0b3b99" stroke="none"/><polygon points="888.7,1070.8 912.2,1078.8 912.2,1115.2 888.7,1107.2" fill="#0b3893" stroke="none"/><polygon points="912.2,1078.8 940.7,1073 940.7,1109.4 912.2,1115.2" fill="#0b3c82" stroke="none"/><path d="M888.7 1070.8L917.2 1065L940.7 1073L940.7 1109.4L912.2 1115.2L888.7 1107.2ZM888.7 1070.8L912.2 1078.8L940.7 1073M912.2 1078.8L912.2 1115.2"/></g>
<g fill="none" stroke="#e8f0ff" stroke-width="2.1" stroke-linejoin="round"><polygon points="915.3,970.4 938.8,978.4 967.3,972.6 943.8,964.6" fill="#0b3aa0" stroke="none"/><polygon points="915.3,970.4 938.8,978.4 938.8,1014.8 915.3,1006.8" fill="#0a3799" stroke="none"/><polygon points="938.8,978.4 967.3,972.6 967.3,1009 938.8,1014.8" fill="#0b3b88" stroke="none"/><path d="M915.3 970.4L943.8 964.6L967.3 972.6L967.3 1009L938.8 1014.8L915.3 1006.8ZM915.3 970.4L938.8 978.4L967.3 972.6M938.8 978.4L938.8 1014.8"/><polygon points="946,983.7 969.5,991.7 998,985.9 974.5,977.9" fill="#0b3b98" stroke="none"/><polygon points="946,983.7 969.5,991.7 969.5,1028.1 946,1020.1" fill="#0b3891" stroke="none"/><polygon points="969.5,991.7 998,985.9 998,1022.3 969.5,1028.1" fill="#0b3c80" stroke="none"/><path d="M946 983.7L974.5 977.9L998 985.9L998 1022.3L969.5 1028.1L946 1020.1ZM946 983.7L969.5 991.7L998 985.9M969.5 991.7L969.5 1028.1"/><polygon points="976.7,997 1000.2,1005 1028.7,999.2 1005.2,991.2" fill="#0b3c8f" stroke="none"/><polygon points="976.7,997 1000.2,1005 1000.2,1041.4 976.7,1033.4" fill="#0b3989" stroke="none"/><polygon points="1000.2,1005 1028.7,999.2 1028.7,1035.6 1000.2,1041.4" fill="#0b3d79" stroke="none"/><path d="M976.7 997L1005.2 991.2L1028.7 999.2L1028.7 1035.6L1000.2 1041.4L976.7 1033.4ZM976.7 997L1000.2 1005L1028.7 999.2M1000.2 1005L1000.2 1041.4"/><polygon points="871.3,981.9 894.8,989.9 923.3,984.1 899.8,976.1" fill="#0b39a9" stroke="none"/><polygon points="871.3,981.9 894.8,989.9 894.8,1026.3 871.3,1018.3" fill="#0a36a1" stroke="none"/><polygon points="894.8,989.9 923.3,984.1 923.3,1020.5 894.8,1026.3" fill="#0a3a8f" stroke="none"/><path d="M871.3 981.9L899.8 976.1L923.3 984.1L923.3 1020.5L894.8 1026.3L871.3 1018.3ZM871.3 981.9L894.8 989.9L923.3 984.1M894.8 989.9L894.8 1026.3"/><polygon points="902,995.2 925.5,1003.2 954,997.4 930.5,989.4" fill="#0b3aa0" stroke="none"/><polygon points="902,995.2 925.5,1003.2 925.5,1039.6 902,1031.6" fill="#0a3799" stroke="none"/><polygon points="925.5,1003.2 954,997.4 954,1033.8 925.5,1039.6" fill="#0b3b87" stroke="none"/><path d="M902 995.2L930.5 989.4L954 997.4L954 1033.8L925.5 1039.6L902 1031.6ZM902 995.2L925.5 1003.2L954 997.4M925.5 1003.2L925.5 1039.6"/><polygon points="932.7,1008.5 956.2,1016.5 984.7,1010.7 961.2,1002.7" fill="#0b3b98" stroke="none"/><polygon points="932.7,1008.5 956.2,1016.5 956.2,1052.9 932.7,1044.9" fill="#0b3891" stroke="none"/><polygon points="956.2,1016.5 984.7,1010.7 984.7,1047.1 956.2,1052.9" fill="#0b3c80" stroke="none"/><path d="M932.7 1008.5L961.2 1002.7L984.7 1010.7L984.7 1047.1L956.2 1052.9L932.7 1044.9ZM932.7 1008.5L956.2 1016.5L984.7 1010.7M956.2 1016.5L956.2 1052.9"/><polygon points="827.3,993.4 850.8,1001.4 879.3,995.6 855.8,987.6" fill="#0a38b1" stroke="none"/><polygon points="827.3,993.4 850.8,1001.4 850.8,1037.8 827.3,1029.8" fill="#0a35a9" stroke="none"/><polygon points="850.8,1001.4 879.3,995.6 879.3,1032 850.8,1037.8" fill="#0a3996" stroke="none"/><path d="M827.3 993.4L855.8 987.6L879.3 995.6L879.3 1032L850.8 1037.8L827.3 1029.8ZM827.3 993.4L850.8 1001.4L879.3 995.6M850.8 1001.4L850.8 1037.8"/><polygon points="858,1006.7 881.5,1014.7 910,1008.9 886.5,1000.9" fill="#0b39a8" stroke="none"/><polygon points="858,1006.7 881.5,1014.7 881.5,1051.1 858,1043.1" fill="#0a36a1" stroke="none"/><polygon points="881.5,1014.7 910,1008.9 910,1045.3 881.5,1051.1" fill="#0a3a8f" stroke="none"/><path d="M858 1006.7L886.5 1000.9L910 1008.9L910 1045.3L881.5 1051.1L858 1043.1ZM858 1006.7L881.5 1014.7L910 1008.9M881.5 1014.7L881.5 1051.1"/><polygon points="888.7,1020 912.2,1028 940.7,1022.2 917.2,1014.2" fill="#0b3aa0" stroke="none"/><polygon points="888.7,1020 912.2,1028 912.2,1064.4 888.7,1056.4" fill="#0a3799" stroke="none"/><polygon points="912.2,1028 940.7,1022.2 940.7,1058.6 912.2,1064.4" fill="#0b3b87" stroke="none"/><path d="M888.7 1020L917.2 1014.2L940.7 1022.2L940.7 1058.6L912.2 1064.4L888.7 1056.4ZM888.7 1020L912.2 1028L940.7 1022.2M912.2 1028L912.2 1064.4"/></g>
<g fill="none" stroke="#e2ecff" stroke-width="1.85" stroke-dasharray="1.8 1.5" stroke-linejoin="round"><polygon points="915.3,925.6 938.8,933.6 967.3,927.8 943.8,919.8" fill="#0b39a6" stroke="none"/><polygon points="915.3,925.6 938.8,933.6 938.8,970 915.3,962" fill="#0a369e" stroke="none"/><polygon points="938.8,933.6 967.3,927.8 967.3,964.2 938.8,970" fill="#0a3a8d" stroke="none"/><path d="M915.3 925.6L943.8 919.8L967.3 927.8L967.3 964.2L938.8 970L915.3 962ZM915.3 925.6L938.8 933.6L967.3 927.8M938.8 933.6L938.8 970"/><polygon points="946,937.4 969.5,945.4 998,939.6 974.5,931.6" fill="#0b3a9e" stroke="none"/><polygon points="946,937.4 969.5,945.4 969.5,981.8 946,973.8" fill="#0a3796" stroke="none"/><polygon points="969.5,945.4 998,939.6 998,976 969.5,981.8" fill="#0b3b85" stroke="none"/><path d="M946 937.4L974.5 931.6L998 939.6L998 976L969.5 981.8L946 973.8ZM946 937.4L969.5 945.4L998 939.6M969.5 945.4L969.5 981.8"/><polygon points="976.7,949.2 1000.2,957.2 1028.7,951.4 1005.2,943.4" fill="#0b3b95" stroke="none"/><polygon points="976.7,949.2 1000.2,957.2 1000.2,993.6 976.7,985.6" fill="#0b388f" stroke="none"/><polygon points="1000.2,957.2 1028.7,951.4 1028.7,987.8 1000.2,993.6" fill="#0b3c7e" stroke="none"/><path d="M976.7 949.2L1005.2 943.4L1028.7 951.4L1028.7 987.8L1000.2 993.6L976.7 985.6ZM976.7 949.2L1000.2 957.2L1028.7 951.4M1000.2 957.2L1000.2 993.6"/><polygon points="871.3,935.6 894.8,943.6 923.3,937.8 899.8,929.8" fill="#0a38ae" stroke="none"/><polygon points="871.3,935.6 894.8,943.6 894.8,980 871.3,972" fill="#0a35a7" stroke="none"/><polygon points="894.8,943.6 923.3,937.8 923.3,974.2 894.8,980" fill="#0a3994" stroke="none"/><path d="M871.3 935.6L899.8 929.8L923.3 937.8L923.3 974.2L894.8 980L871.3 972ZM871.3 935.6L894.8 943.6L923.3 937.8M894.8 943.6L894.8 980"/><polygon points="902,947.4 925.5,955.4 954,949.6 930.5,941.6" fill="#0b39a6" stroke="none"/><polygon points="902,947.4 925.5,955.4 925.5,991.8 902,983.8" fill="#0a369f" stroke="none"/><polygon points="925.5,955.4 954,949.6 954,986 925.5,991.8" fill="#0a3a8d" stroke="none"/><path d="M902 947.4L930.5 941.6L954 949.6L954 986L925.5 991.8L902 983.8ZM902 947.4L925.5 955.4L954 949.6M925.5 955.4L925.5 991.8"/><polygon points="932.7,959.2 956.2,967.2 984.7,961.4 961.2,953.4" fill="#0b3a9e" stroke="none"/><polygon points="932.7,959.2 956.2,967.2 956.2,1003.6 932.7,995.6" fill="#0a3797" stroke="none"/><polygon points="956.2,967.2 984.7,961.4 984.7,997.8 956.2,1003.6" fill="#0b3b85" stroke="none"/><path d="M932.7 959.2L961.2 953.4L984.7 961.4L984.7 997.8L956.2 1003.6L932.7 995.6ZM932.7 959.2L956.2 967.2L984.7 961.4M956.2 967.2L956.2 1003.6"/><polygon points="827.3,945.6 850.8,953.6 879.3,947.8 855.8,939.8" fill="#0a37b7" stroke="none"/><polygon points="827.3,945.6 850.8,953.6 850.8,990 827.3,982" fill="#0a34af" stroke="none"/><polygon points="850.8,953.6 879.3,947.8 879.3,984.2 850.8,990" fill="#0a389b" stroke="none"/><path d="M827.3 945.6L855.8 939.8L879.3 947.8L879.3 984.2L850.8 990L827.3 982ZM827.3 945.6L850.8 953.6L879.3 947.8M850.8 953.6L850.8 990"/><polygon points="858,957.4 881.5,965.4 910,959.6 886.5,951.6" fill="#0a38af" stroke="none"/><polygon points="858,957.4 881.5,965.4 881.5,1001.8 858,993.8" fill="#0a35a7" stroke="none"/><polygon points="881.5,965.4 910,959.6 910,996 881.5,1001.8" fill="#0a3994" stroke="none"/><path d="M858 957.4L886.5 951.6L910 959.6L910 996L881.5 1001.8L858 993.8ZM858 957.4L881.5 965.4L910 959.6M881.5 965.4L881.5 1001.8"/><polygon points="888.7,969.2 912.2,977.2 940.7,971.4 917.2,963.4" fill="#0b39a6" stroke="none"/><polygon points="888.7,969.2 912.2,977.2 912.2,1013.6 888.7,1005.6" fill="#0a369f" stroke="none"/><polygon points="912.2,977.2 940.7,971.4 940.7,1007.8 912.2,1013.6" fill="#0a3a8d" stroke="none"/><path d="M888.7 969.2L917.2 963.4L940.7 971.4L940.7 1007.8L912.2 1013.6L888.7 1005.6ZM888.7 969.2L912.2 977.2L940.7 971.4M912.2 977.2L912.2 1013.6"/></g></g>
<use href="#brain" x="999" y="478.6" width="162" height="200.5"/>
<use href="#brain" x="356" y="899.6" width="162" height="200.5"/>
</svg>
<div id="txt">
<div class="lb" style="left:606px;top:406.5px;letter-spacing:1.4px;">正向投影</div>
<div class="lb" style="left:214px;top:706.5px;letter-spacing:1.4px;">原始数据</div>
<div class="lb" style="left:444px;top:689.5px;letter-spacing:1.5px;line-height:32.5px;">几何<br>模型</div>
<div class="lb" style="left:637.5px;top:501.2px;letter-spacing:1.2px;line-height:33.2px;">光学<br>模型</div>
<div class="lb" style="left:828px;top:690px;letter-spacing:2.2px;line-height:32.8px;">噪声<br>模型</div>
<div class="lb" style="left:637.3px;top:879px;letter-spacing:1.8px;line-height:33px;">解剖<br>模型</div>
<div class="lb" style="left:1017px;top:689.3px;letter-spacing:0.4px;">优化后图像</div>
<div class="lb" style="left:382.8px;top:1155.4px;letter-spacing:0.4px;">反向投影</div>
<div class="lb" style="left:781px;top:1155px;letter-spacing:1.5px;">深度学习卷积神经网络</div>
<div class="ttl" style="top:324.5px;font-size:40px;line-height:46px;-webkit-text-stroke:0.7px #fff;"><span style="font-size:41.4px;letter-spacing:-1.25px">AIIR</span>重建技术</div>
<div class="ttl" style="top:455.7px;font-size:40px;line-height:46px;">优势</div>
<svg class="ck" style="top:565px" viewBox="0 0 30 24"><path d="M2.1 11.7L11.8 21L26.5 5.5" fill="none" stroke="#cdcdcd" stroke-width="2.9"/></svg>
<div class="li" style="top:560.1px">降噪能力强</div>
<svg class="ck" style="top:637px" viewBox="0 0 30 24"><path d="M2.1 11.7L11.8 21L26.5 5.5" fill="none" stroke="#cdcdcd" stroke-width="2.9"/></svg>
<div class="li" style="top:632.1px">提升空间分辨率</div>
<svg class="ck" style="top:709px" viewBox="0 0 30 24"><path d="M2.1 11.7L11.8 21L26.5 5.5" fill="none" stroke="#cdcdcd" stroke-width="2.9"/></svg>
<div class="li" style="top:704.1px">提升低对比度探测能力</div>
<svg class="ck" style="top:781px" viewBox="0 0 30 24"><path d="M2.1 11.7L11.8 21L26.5 5.5" fill="none" stroke="#cdcdcd" stroke-width="2.9"/></svg>
<div class="li" style="top:776.1px">抑制伪影能力强</div>
<svg class="ck" style="top:853px" viewBox="0 0 30 24"><path d="M2.1 11.7L11.8 21L26.5 5.5" fill="none" stroke="#cdcdcd" stroke-width="2.9"/></svg>
<div class="li" style="top:848.1px">降低剂量能力强</div>
<svg class="ck" style="top:925px" viewBox="0 0 30 24"><path d="M2.1 11.7L11.8 21L26.5 5.5" fill="none" stroke="#cdcdcd" stroke-width="2.9"/></svg>
<div class="li" style="top:920.1px">重建速度快</div>
<svg class="ck" style="top:997px" viewBox="0 0 30 24"><path d="M2.1 11.7L11.8 21L26.5 5.5" fill="none" stroke="#cdcdcd" stroke-width="2.9"/></svg>
<div class="li" style="top:992.1px">图像纹理自然</div>
</div>
</body>
</html>
